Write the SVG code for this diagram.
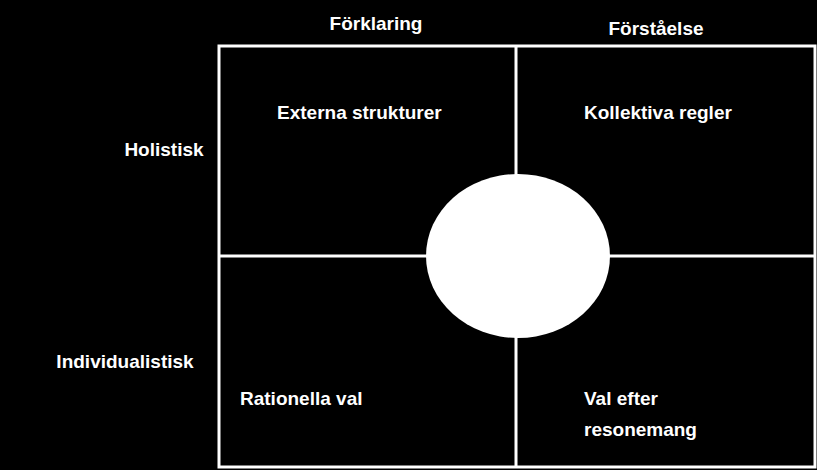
<svg xmlns="http://www.w3.org/2000/svg" width="817" height="470" viewBox="0 0 817 470">
<style>
text{font-family:"Liberation Sans",Arial,sans-serif;font-weight:bold;font-size:19px;fill:#fff}
.l{stroke:#fff;stroke-width:3;fill:none}
</style>
<rect width="817" height="470" fill="#000"/>
<g id="connectors">
<rect class="l" x="219" y="46" width="596" height="421"/>
<line class="l" x1="516" y1="46" x2="516" y2="467"/>
<line class="l" x1="219" y1="256" x2="815" y2="256"/>
</g>
<g id="center"><ellipse cx="518" cy="256" rx="92" ry="82" fill="#fff"/></g>
<g id="headers">
<text x="376" y="30" text-anchor="middle">Förklaring</text>
<text x="656" y="35" text-anchor="middle">Förståelse</text>
<text x="164" y="156" text-anchor="middle">Holistisk</text>
<text x="125" y="368" text-anchor="middle">Individualistisk</text>
</g>
<g id="q1"><text x="277" y="119">Externa strukturer</text></g>
<g id="q2"><text x="584" y="119">Kollektiva regler</text></g>
<g id="q3"><text x="240" y="405">Rationella val</text></g>
<g id="q4"><text x="584" y="405">Val efter</text><text x="584" y="436">resonemang</text></g>
</svg>
